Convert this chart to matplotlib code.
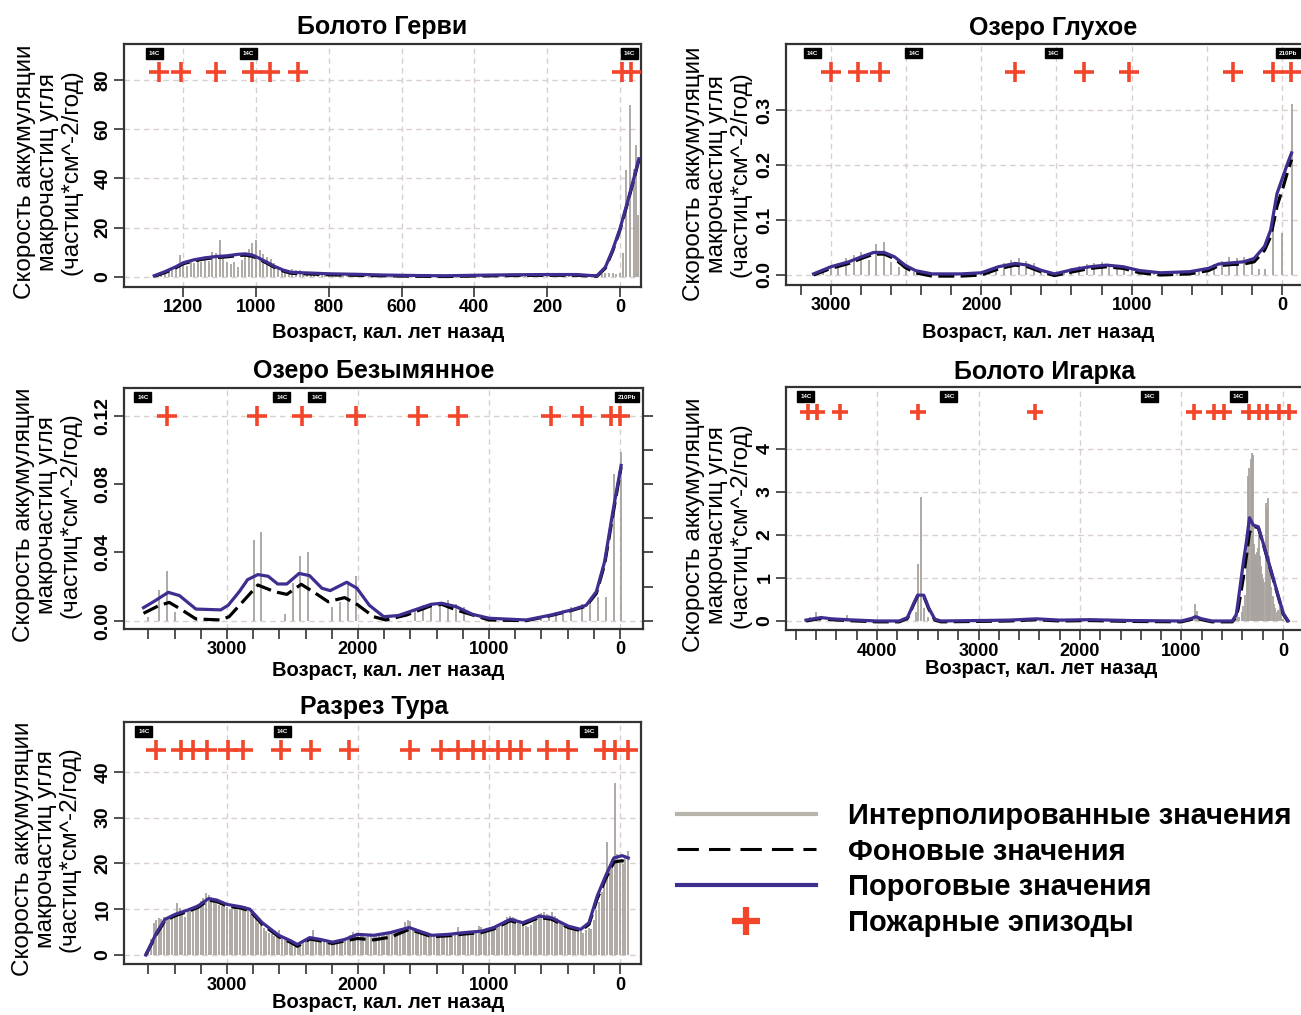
import matplotlib
matplotlib.use("Agg")
import matplotlib.pyplot as plt
import matplotlib.transforms as mtransforms
from matplotlib.lines import Line2D
import numpy as np

plt.rcParams['font.family'] = ['Liberation Sans', 'DejaVu Sans']

W, H = 1301, 1015
BAR_C = '#a8a39e'
THR_C = '#3f2d8f'
FIRE_C = '#f2452a'
GRID_C = '#d9cfcf'
AX_C = '#333333'

YLABEL = 'Скорость аккумуляции\nмакрочастиц угля\n(частиц*см^-2/год)'
XLABEL = 'Возраст, кал. лет назад'

# ---------------- Болото Герви ----------------
gervi_bar_start, gervi_bar_step = 1270, 10
gervi_bar_val = [0.8, 1.5, 2.0, 2.5, 3.2, 4.0, 8.8, 5.0, 4.5, 6.0,
                 5.5, 6.8, 6.0, 7.5, 6.6, 10.0, 9.8, 15.0, 7.8, 6.0,
                 5.2, 6.0, 4.2, 7.0, 9.0, 11.5, 14.0, 15.2, 11.0, 9.5,
                 8.0, 7.2, 5.5, 4.0, 2.2, 2.0, 3.0, 3.2, 3.0, 2.8,
                 2.2, 1.6, 1.4, 1.2, 1.5, 1.3, 1.1, 1.0, 1.2, 1.0,
                 0.9, 1.0, 0.8, 0.9, 0.7, 0.8, 0.6, 0.7, 0.6, 0.5,
                 0.6, 0.5, 0.4, 0.5, 0.6, 0.5, 0.4, 0.5, 0.4, 0.5,
                 0.4, 0.5, 0.3, 0.4, 0.3, 0.4, 0.3, 0.4, 0.3, 0.4,
                 0.3, 0.4, 0.5, 0.4, 0.5, 0.6, 0.5, 0.6, 0.7, 0.6,
                 0.7, 0.8, 0.7, 0.8, 0.9, 0.8, 0.9, 1.0, 0.9, 1.0,
                 0.9, 1.0, 1.1, 1.0, 0.9, 1.0, 1.1, 1.0, 0.9, 1.0,
                 1.0, 1.1, 1.0, 0.9, 1.0, 1.1, 1.2, 1.0, 0.9, 1.0,
                 1.2, 1.3, 1.4, 1.5, 1.6, 1.5, 1.4, 1.6]
gervi_top_age = [-9, -18, -29, -38, -44, -50]
gervi_top_val = [9.9, 43.5, 70.0, 44.0, 53.5, 25.0]
gervi_thr_age = [1280, 1250, 1220, 1200, 1170, 1140, 1110, 1080, 1050, 1030, 1010, 994, 970, 949,
                 925, 903, 870, 850, 800, 723, 650, 558, 480, 400, 300, 200, 120, 80, 63, 40, 20,
                 0, -20, -40, -52]
gervi_thr_val = [0.5, 2.2, 4.2, 5.8, 7.0, 7.8, 8.3, 8.6, 9.2, 9.4, 8.9, 7.8, 6.0, 4.3,
                 2.8, 1.9, 1.7, 1.6, 1.3, 1.1, 0.8, 0.6, 0.5, 0.7, 0.9, 1.0, 1.0, 0.6, 0.5, 4.0, 11.0,
                 19.5, 30.0, 41.0, 48.0]
gervi_bg_val = [0.3, 1.8, 3.8, 5.4, 6.6, 7.4, 7.9, 8.2, 8.7, 8.9, 8.4, 7.4, 5.6, 3.9,
                2.4, 1.5, 1.3, 1.2, 0.9, 0.7, 0.5, 0.3, 0.2, 0.4, 0.6, 0.7, 0.7, 0.4, 0.3, 3.6, 10.5,
                19.0, 29.5, 40.5, 47.5]
gervi_fire = [1267, 1207, 1111, 1012, 962, 885, -6, -31]
gervi_date_age = [1280, 1022, -27]
gervi_date_lab = ['14C', '14C', '14C']

# ---------------- Озеро Глухое ----------------
glu_bar_start, glu_bar_step = 3100, 50
glu_bar_val = [0.002, 0.008, 0.015, 0.022, 0.030, 0.036, 0.042, 0.027, 0.056, 0.060,
               0.024, 0.015, 0.012, 0.006, 0.004, 0.003, 0.003, 0.002, 0.003, 0.002,
               0.003, 0.004, 0.006, 0.010, 0.016, 0.022, 0.028, 0.030, 0.025, 0.022,
               0.010, 0.005, 0.004, 0.008, 0.012, 0.016, 0.020, 0.022, 0.024, 0.020,
               0.018, 0.016, 0.012, 0.006, 0.005, 0.004, 0.005, 0.006, 0.005, 0.006,
               0.008, 0.010, 0.015, 0.020, 0.025, 0.032, 0.030, 0.033, 0.025, 0.010]
glu_top_age = [115, 60, 0, -64]
glu_top_val = [0.010, 0.088, 0.076, 0.311]
glu_thr_age = [3116, 3000, 2881, 2798, 2715, 2646, 2577, 2508, 2438, 2328, 2134, 2000, 1886, 1775,
               1692, 1595, 1512, 1388, 1277, 1167, 1056, 946, 807, 614, 489, 420, 337, 254, 185,
               116, 75, 33, -8, -40, -64]
glu_thr_val = [0.002, 0.015, 0.024, 0.033, 0.041, 0.041, 0.033, 0.018, 0.008, 0.002, 0.002, 0.004,
               0.015, 0.021, 0.018, 0.008, 0.002, 0.010, 0.015, 0.018, 0.015, 0.008, 0.004, 0.006,
               0.012, 0.020, 0.022, 0.024, 0.030, 0.052, 0.082, 0.148, 0.180, 0.205, 0.222]
glu_bg_val = [0.000, 0.012, 0.021, 0.030, 0.038, 0.038, 0.030, 0.014, 0.004, -0.002, -0.002, 0.000,
              0.011, 0.018, 0.015, 0.005, -0.001, 0.006, 0.012, 0.015, 0.012, 0.004, 0.000, 0.002,
              0.008, 0.017, 0.019, 0.020, 0.024, 0.045, 0.070, 0.125, 0.160, 0.190, 0.210]
glu_fire = [3000, 2817, 2671, 1775, 1319, 1020, 323, 61, -58]
glu_date_age = [3126, 2448, 1523, -40]
glu_date_lab = ['14C', '14C', '14C', '210Pb']

# ---------------- Озеро Безымянное ----------------
bez_bar_age = [3600, 3517, 3457, 3400, 2795, 2738, 2558, 2495, 2439, 2379, 2197, 2140, 2077, 2017,
               1566, 1503, 1440, 1377, 1314, 1251, 1188, 1000, 800, 600, 540, 491, 432, 370, 290,
               227, 164, 107, 47, -9]
bez_bar_val = [0.002, 0.018, 0.029, 0.005, 0.047, 0.052, 0.004, 0.022, 0.038, 0.040, 0.008, 0.011,
               0.023, 0.026, 0.006, 0.009, 0.010, 0.011, 0.012, 0.010, 0.008, 0.001, 0.001, 0.002,
               0.003, 0.005, 0.006, 0.008, 0.010, 0.012, 0.014, 0.014, 0.086, 0.099]
bez_thr_age = [3637, 3552, 3448, 3363, 3237, 3048, 2991, 2906, 2843, 2764, 2685, 2613, 2543, 2449,
               2370, 2275, 2212, 2086, 2008, 1913, 1803, 1692, 1566, 1440, 1361, 1251, 1125, 999,
               715, 526, 369, 258, 180, 117, 54, -9]
bez_thr_val = [0.0076, 0.0115, 0.0166, 0.0147, 0.0068, 0.0063, 0.009, 0.017, 0.024, 0.027, 0.026,
               0.0215, 0.0215, 0.0277, 0.0264, 0.019, 0.0176, 0.0225, 0.019, 0.009, 0.0023, 0.003,
               0.0063, 0.0096, 0.0102, 0.0082, 0.0037, 0.0014, 0.0004, 0.0033, 0.0063, 0.009,
               0.017, 0.0346, 0.064, 0.091]
bez_bg_age = [3637, 3520, 3441, 3363, 3237, 3048, 2984, 2890, 2764, 2638, 2543, 2433, 2323, 2228,
              2102, 2008, 1881, 1787, 1629, 1440, 1361, 1251, 999, 715, 526, 369, 258, 180, 117,
              54, -9]
bez_bg_val = [0.0043, 0.0088, 0.0107, 0.0072, 0.001, 0.0004, 0.0023, 0.0102, 0.0209, 0.017,
              0.0154, 0.0213, 0.016, 0.0111, 0.0135, 0.0096, 0.0023, 0.0004, 0.0033, 0.0088,
              0.0096, 0.0063, 0.0004, 0.0, 0.003, 0.006, 0.0085, 0.016, 0.033, 0.062, 0.090]
bez_fire = [3457, 2773, 2426, 2017, 1544, 1235, 526, 290, 69, 0]
bez_date_age = [3641, 2580, 2313, -53]
bez_date_lab = ['14C', '14C', '14C', '210Pb']

# ---------------- Болото Игарка ----------------
ig_bar_age = [4700, 4660, 4600, 4560, 4450, 4300, 4200, 3700, 3620, 3600, 3570, 3540, 3500,
              2900, 2430, 1900, 900, 870, 851, 830,
              470, 450, 430, 407, 391, 375, 358, 342, 330, 319, 305, 292, 282, 272, 262, 253,
              243, 233, 223, 213, 203, 194, 183, 171, 161, 151, 140, 128, 115, 102, 90, 80,
              63, 45, 30, 15, -3]
ig_bar_val = [0.05, 0.1, 0.2, 0.08, 0.06, 0.15, 0.04, 0.05, 0.2, 1.32, 2.89, 0.3, 0.1,
              0.03, 0.06, 0.04, 0.05, 0.39, 0.23, 0.08,
              0.1, 0.15, 0.1, 0.2, 0.35, 0.6, 1.4, 3.37, 3.55, 3.76, 3.9, 3.85, 1.8, 1.55, 1.5, 1.6,
              1.7, 2.0, 1.5, 1.28, 1.1, 0.97, 0.9, 2.75, 2.6, 2.87, 1.5, 1.12, 0.8, 0.58, 0.4, 0.3,
              0.2, 0.25, 0.43, 0.3, 0.04]
ig_thr_age = [4700, 4600, 4550, 4450, 4300, 4000, 3780, 3700, 3640, 3600, 3540, 3490, 3430, 3370,
              3000, 2700, 2430, 2200, 1900, 1500, 1000, 900, 860, 800, 700, 500, 460, 440, 391,
              358, 330, 292, 243, 194, 128, 63, -3, -52]
ig_thr_val = [0.02, 0.06, 0.08, 0.05, 0.03, 0.0, 0.0, 0.08, 0.40, 0.60, 0.60, 0.30, 0.04, 0.0,
              0.01, 0.02, 0.05, 0.02, 0.03, 0.01, 0.0, 0.06, 0.10, 0.05, 0.0, 0.0, 0.15, 0.49, 1.35,
              1.88, 2.40, 2.23, 2.19, 1.80, 1.26, 0.72, 0.18, 0.0]
ig_bg_val = [0.0, 0.04, 0.06, 0.03, 0.01, -0.02, -0.02, 0.06, 0.38, 0.58, 0.58, 0.28, 0.02, -0.02,
             -0.01, 0.0, 0.03, 0.0, 0.01, -0.01, -0.02, 0.04, 0.08, 0.03, -0.02, -0.02, 0.1, 0.3, 1.0,
             1.55, 2.05, 2.2, 2.17, 1.78, 1.24, 0.7, 0.16, -0.02]
ig_fire = [4680, 4590, 4360, 3600, 2440, 880, 680, 585, 330, 240, 155, 35, -60]
ig_date_age = [4700, 3291, 1320, 443]
ig_date_lab = ['14C', '14C', '14C', '14C']

# ---------------- Разрез Тура ----------------
tura_bar_start, tura_bar_step = 3600, 20
tura_bar_val = [0.8, 3.5, 6.9, 7.6, 8.0, 7.8, 8.3, 8.4, 8.1, 8.7,
                9.2, 11.3, 10.2, 9.5, 8.4, 9.6, 9.9, 10.4, 10.8, 11.2,
                11.8, 12.4, 13.5, 13.2, 12.6, 11.9, 11.4, 11.0, 10.7, 10.9,
                10.4, 10.1, 10.0, 10.3, 9.8, 9.9, 10.2, 10.6, 10.4, 9.4,
                8.5, 7.8, 7.0, 6.5, 5.9, 5.2, 4.8, 4.5, 4.2, 4.0,
                5.5, 3.9, 3.6, 3.2, 2.9, 2.6, 1.8, 1.9, 2.3, 2.8,
                3.5, 4.0, 3.8, 5.5, 3.9, 3.5, 3.2, 3.0, 2.9, 2.8,
                2.7, 3.0, 3.2, 3.1, 3.3, 3.5, 3.9, 4.4, 5.0, 4.6,
                4.3, 4.5, 4.2, 4.0, 4.1, 4.3, 3.9, 4.2, 4.4, 4.6,
                4.8, 4.7, 4.9, 5.0, 5.2, 5.1, 5.4, 5.6, 7.3, 7.6,
                7.5, 5.9, 5.3, 4.9, 4.6, 4.4, 4.2, 4.3, 4.1, 4.4,
                4.6, 4.5, 4.4, 4.7, 4.5, 4.3, 4.8, 5.0, 6.2, 4.9,
                4.8, 5.0, 4.7, 5.1, 5.3, 5.0, 6.4, 6.1, 5.4, 5.6,
                5.9, 5.8, 6.2, 6.4, 6.8, 7.2, 7.6, 8.2, 8.5, 8.3,
                8.0, 7.7, 7.3, 6.8, 6.4, 6.2, 6.5, 7.2, 8.4, 8.9,
                9.2, 9.4, 9.0, 8.8, 9.3, 8.6, 8.0, 7.4, 6.9, 6.5,
                6.2, 5.8, 5.5, 5.3, 5.0, 5.2, 4.9, 5.4, 5.8, 5.6,
                7.6, 9.8, 11.5, 13.8, 16.2, 24.6, 19.5, 21.0, 37.5, 22.0,
                20.2, 19.8, 21.5, 22.8]
tura_thr_age = [3620, 3537, 3473, 3394, 3300, 3221, 3142, 3079, 3000, 2889, 2826, 2731, 2605,
                2510, 2463, 2368, 2289, 2195, 2100, 2005, 1879, 1752, 1610, 1531, 1437, 1310,
                1184, 1058, 963, 837, 742, 616, 521, 395, 300, 237, 174, 111, 47, -16, -63]
tura_thr_val = [0.0, 4.9, 7.8, 8.9, 9.8, 10.7, 12.3, 12.0, 11.05, 10.5, 10.0, 7.05, 4.3, 3.05,
                2.3, 3.8, 3.4, 2.8, 3.4, 4.5, 4.3, 4.9, 6.0, 5.2, 4.3, 4.5, 4.9, 5.2, 6.0, 7.8,
                7.05, 8.5, 8.1, 6.3, 5.6, 7.05, 12.9, 17.2, 21.2, 21.7, 21.2]
tura_bg_val = [0.0, 4.6, 7.5, 8.6, 9.5, 10.4, 12.0, 11.7, 10.7, 10.2, 9.7, 6.7, 4.0, 2.7,
               1.9, 3.5, 3.1, 2.5, 3.1, 3.6, 3.3, 3.9, 5.6, 4.9, 4.0, 4.2, 4.6, 4.9, 5.7, 7.5,
               6.7, 8.2, 7.8, 6.0, 5.3, 6.7, 12.3, 16.6, 20.3, 20.6, 20.0]
tura_fire = [3540, 3350, 3258, 3150, 2990, 2880, 2585, 2360, 2065, 1600, 1370, 1240, 1120, 1040,
             930, 840, 755, 560, 400, 120, 42, -58]
tura_date_age = [3634, 2580, 237]
tura_date_lab = ['14C', '14C', '14C']

legend_labels = ['Интерполированные значения', 'Фоновые значения',
                 'Пороговые значения', 'Пожарные эпизоды']


def px_axes(fig, x0, y0, x1, y1):
    return fig.add_axes([x0 / W, 1 - y1 / H, (x1 - x0) / W, (y1 - y0) / H])


def draw_panel(ax, bar_age, bar_val, bg_age, bg_val, thr_age, thr_val, fire_age,
               date_age, date_lab, xlim, ylim, xmajor, xminor, yticks, ylabels,
               xgrid, ygrid, fire_y=0.885, fire_ms=15):
    ax.set_xlim(*xlim)
    ax.set_ylim(*ylim)
    for g in xgrid:
        ax.axvline(g, color=GRID_C, lw=1.0, ls=(0, (4, 3)), zorder=0)
    for g in ygrid:
        ax.axhline(g, color=GRID_C, lw=1.0, ls=(0, (4, 3)), zorder=0)
    ax.vlines(bar_age, 0, bar_val, color=BAR_C, lw=1.3, zorder=1)
    ax.plot(bg_age, bg_val, color='black', lw=2.3, ls=(0, (5, 2)), zorder=2)
    ax.plot(thr_age, thr_val, color=THR_C, lw=2.3, zorder=3)
    trans = mtransforms.blended_transform_factory(ax.transData, ax.transAxes)
    ax.plot(fire_age, [fire_y] * len(fire_age), ls='none', marker='+', ms=fire_ms, mew=2.6,
            color=FIRE_C, transform=trans, clip_on=False, zorder=4)
    for a, t in zip(date_age, date_lab):
        ax.text(a, 0.962, t, transform=trans, ha='center', va='center', color='white',
                fontsize=4.5, fontweight='bold',
                bbox=dict(boxstyle='square,pad=0.45', fc='black', ec='black'))
    ax.set_xticks(xmajor)
    ax.set_xticklabels([str(v) for v in xmajor], fontsize=13, fontweight='bold')
    ax.set_xticks(xminor, minor=True)
    ax.set_yticks(yticks)
    ax.set_yticklabels(ylabels, fontsize=14, fontweight='bold', rotation=90, va='center')
    ax.tick_params(which='both', direction='out', length=7, width=1.2, color=AX_C)
    ax.tick_params(axis='x', pad=2)
    ax.tick_params(axis='y', pad=2)
    for s in ax.spines.values():
        s.set_color(AX_C)
        s.set_linewidth(1.6)


fig = plt.figure(figsize=(W / 100, H / 100), dpi=100)

# panel 1
ax1 = px_axes(fig, 124, 44, 641, 287)
g_age = np.concatenate([gervi_bar_start - gervi_bar_step * np.arange(len(gervi_bar_val)), gervi_top_age])
g_val = np.concatenate([gervi_bar_val, gervi_top_val])
draw_panel(ax1, g_age, g_val, gervi_thr_age, gervi_bg_val, gervi_thr_age, gervi_thr_val,
           gervi_fire, gervi_date_age, gervi_date_lab, (1363, -58), (-4.06, 94.6),
           [1200, 1000, 800, 600, 400, 200, 0], [], [0, 20, 40, 60, 80],
           ['0', '20', '40', '60', '80'], [1200, 1000, 800, 600, 400, 200, 0], [0, 20, 40, 60, 80])

# panel 2
ax2 = px_axes(fig, 786, 44, 1320, 285)
gl_age = np.concatenate([glu_bar_start - glu_bar_step * np.arange(len(glu_bar_val)), glu_top_age])
gl_val = np.concatenate([glu_bar_val, glu_top_val])
draw_panel(ax2, gl_age, gl_val, glu_thr_age, glu_bg_val, glu_thr_age, glu_thr_val,
           glu_fire, glu_date_age, glu_date_lab, (3299, -253), (-0.0182, 0.42),
           [3000, 2000, 1000, 0], np.arange(3200, -1, -200), [0.0, 0.1, 0.2, 0.3],
           ['0.0', '0.1', '0.2', '0.3'], [3000, 2500, 2000, 1500, 1000, 500, 0], [0.0, 0.1, 0.2, 0.3])

# panel 3
ax3 = px_axes(fig, 124, 388, 643, 629)
draw_panel(ax3, bez_bar_age, bez_bar_val, bez_bg_age, bez_bg_val, bez_thr_age, bez_thr_val,
           bez_fire, bez_date_age, bez_date_lab, (3786, -176), (-0.0049, 0.1364),
           [3000, 2000, 1000, 0], np.arange(3600, -1, -200), [0.0, 0.04, 0.08, 0.12],
           ['0.00', '0.04', '0.08', '0.12'], [3000, 2000, 1000, 0], [0.0, 0.12])
ax3r = ax3.twinx()
ax3r.set_ylim(ax3.get_ylim())
ax3r.set_yticks([0.0, 0.02, 0.04, 0.06, 0.08, 0.10, 0.12])
ax3r.set_yticklabels([])
ax3r.tick_params(direction='out', length=7, width=1.2, color=AX_C)
for s in ax3r.spines.values():
    s.set_visible(False)

# panel 4
ax4 = px_axes(fig, 786, 387, 1320, 630)
draw_panel(ax4, ig_bar_age, ig_bar_val, ig_thr_age, ig_bg_val, ig_thr_age, ig_thr_val,
           ig_fire, ig_date_age, ig_date_lab, (4897, -365), (-0.21, 5.44),
           [4000, 3000, 2000, 1000, 0], np.arange(4800, -1, -200), [0, 1, 2, 3, 4],
           ['0', '1', '2', '3', '4'], [4000, 3000, 2000, 1000, 0], [0, 1, 2, 3, 4],
           fire_y=0.896, fire_ms=12)

# panel 5
ax5 = px_axes(fig, 124, 722, 641, 964)
t_age = tura_bar_start - tura_bar_step * np.arange(len(tura_bar_val))
draw_panel(ax5, t_age, tura_bar_val, tura_thr_age, tura_bg_val, tura_thr_age, tura_thr_val,
           tura_fire, tura_date_age, tura_date_lab, (3786, -160), (-1.97, 50.9),
           [3000, 2000, 1000, 0], np.arange(3600, -1, -200), [0, 10, 20, 30, 40],
           ['0', '10', '20', '30', '40'], [3000, 2000, 1000, 0], [0, 10, 20, 30, 40])

titles = [('Болото Герви', 382, 27), ('Озеро Глухое', 1053, 28), ('Озеро Безымянное', 374, 371),
          ('Болото Игарка', 1045, 372), ('Разрез Тура', 374, 707)]
for t, x, y in titles:
    fig.text(x / W, 1 - y / H, t, ha='center', va='center', fontsize=18, fontweight='bold')

xlabels = [(388, 333), (1038, 333), (388, 671), (1041, 668), (388, 1003)]
for x, y in xlabels:
    fig.text(x / W, 1 - y / H, XLABEL, ha='center', va='center', fontsize=14.5, fontweight='bold')

ylabels_pos = [(48, 172), (717, 174), (47, 515), (717, 525), (46, 849)]
for x, y in ylabels_pos:
    fig.text(x / W, 1 - y / H, YLABEL, ha='center', va='center', rotation=90,
             fontsize=17.5, linespacing=1.08)

handles = [Line2D([], [], color='#b8b5ad', lw=3),
           Line2D([], [], color='black', lw=2.2, ls=(0, (7, 3.3))),
           Line2D([], [], color=THR_C, lw=3),
           Line2D([], [], color=FIRE_C, ls='none', marker='+', ms=20, mew=4.5)]
fig.legend(handles, legend_labels, loc='upper left', bbox_to_anchor=(677 / W, 1 - 802 / H),
           frameon=False, handlelength=4.75, handletextpad=1.1, labelspacing=0.26,
           prop=dict(weight='bold', size=21), borderpad=0, borderaxespad=0)

fig.savefig('out.png', dpi=100)
